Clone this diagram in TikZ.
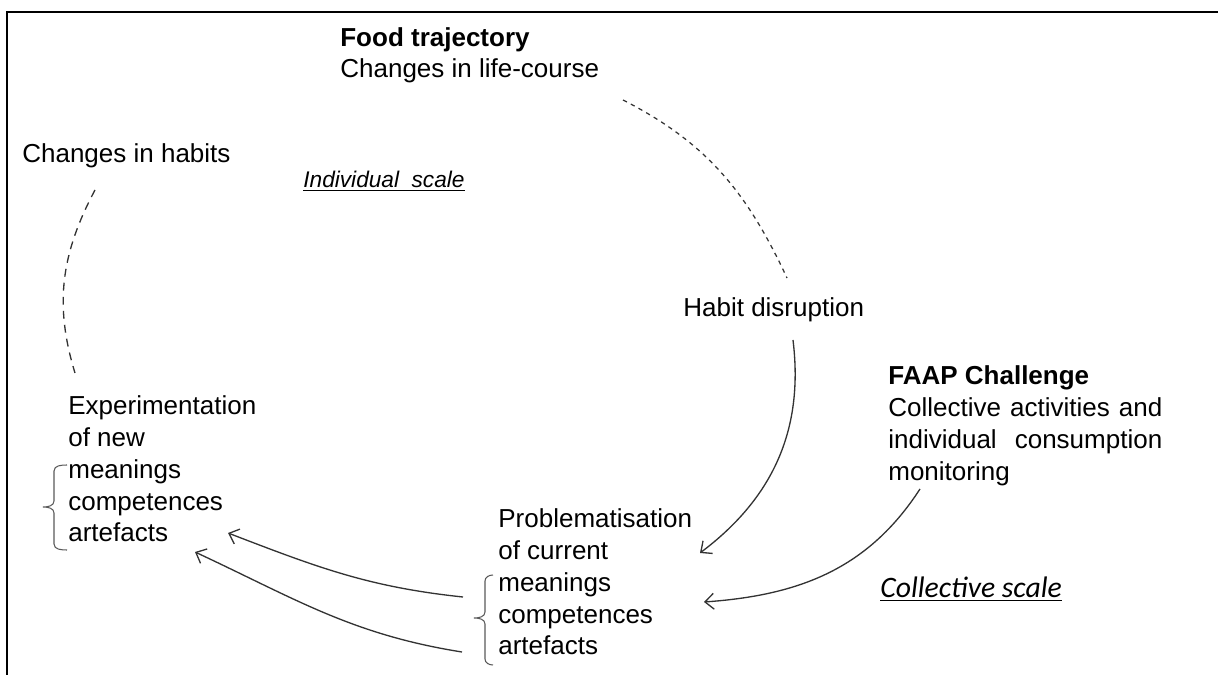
\documentclass[tikz,border=0pt]{standalone}
\usepackage{fontspec}
\setmainfont{Liberation Sans}
\newfontfamily\calibrifont{Carlito}
\usetikzlibrary{arrows.meta}
\tikzset{
  frame/.style={draw=black, line width=1.7pt, line join=miter},
  flow/.style={draw=black!80, line width=0.75pt, -{Straight Barb[length=5pt,width=9pt]}},
  trail/.style={draw=black!80, line width=0.75pt, dash pattern=on 4.5pt off 3.5pt},
  trailfine/.style={draw=black!80, line width=0.7pt, dash pattern=on 2.5pt off 2.5pt},
  brace/.style={draw=black!65, line width=0.6pt},
  label/.style={black, inner sep=0pt, anchor=base west, align=left,
    font=\fontsize{14.8}{18.2}\selectfont},
  scaletag/.style={label, font=\fontsize{12.9}{15}\selectfont\itshape}
}

\begin{document}
\begin{tikzpicture}[x=0.02cm, y=-0.02cm]
  \useasboundingbox (0,0) rectangle (1218,675);
  \draw[frame] (7,675) -- (7,12) -- (1218,12);

  % texts (multi-line ones sit on their last line)
  \node[label] (food) at (340,78) {{\bfseries Food trajectory}\\Changes in life-course};
  \node[label] (habits) at (22,163) {Changes in habits};
  \node[scaletag] (indiv) at (303,188) {\underline{Individual\ \ scale}};
  \node[label] (disrupt) at (683,317) {Habit disruption};
  \node[label, text width=5.48cm, align=justify] (faap) at (888,385)
    {{\bfseries FAAP Challenge}\\Collective activities and individual consumption monitoring};
  \node[label, font=\fontsize{16.9}{19}\selectfont\calibrifont\itshape] (collect) at (880,598)
    {\underline{Collective scale}};
  \node[label] (exper) at (68,542) {Experimentation\\of new\\meanings\\competences\\artefacts};
  \node[label] (probl) at (498,655) {Problematisation\\of current\\meanings\\competences\\artefacts};

  % ends of the connectors
  \coordinate (food-end) at (623,100);
  \coordinate (disrupt-top) at (787,278);
  \coordinate (habits-end) at (95,190);
  \coordinate (exper-top) at (75,373);
  \coordinate (disrupt-end) at (793,340);
  \coordinate (probl-in1) at (700,553);
  \coordinate (faap-end) at (920,489);
  \coordinate (probl-in2) at (704,602);
  \coordinate (probl-out1) at (463,597);
  \coordinate (exper-in1) at (228,533);
  \coordinate (probl-out2) at (462,652);
  \coordinate (exper-in2) at (195,552);

  % connectors
  \draw[trailfine] (food-end) to[out=-27, in=115] (disrupt-top);
  \draw[trail] (habits-end) to[out=-118, in=107] (exper-top);
  \draw[flow] (disrupt-end) to[out=-83, in=37] (probl-in1);
  \draw[flow] (faap-end) to[out=-123, in=4] (probl-in2);
  \draw[flow] (probl-out1) to[out=174, in=-21] (exper-in1);
  \draw[flow] (probl-out2) to[out=171, in=-25] (exper-in2);

  % braces
  \draw[brace] (67,465) to[out=180, in=90] (54,471) -- (54,501)
    to[out=-90, in=0] (43,507) to[out=0, in=90] (54,513) -- (54,544)
    to[out=-90, in=180] (67,550);
  \draw[brace] (493,575) to[out=180, in=90] (485,581) -- (485,612)
    to[out=-90, in=0] (474,618) to[out=0, in=90] (485,624) -- (485,659)
    to[out=-90, in=180] (493,665);
\end{tikzpicture}
\end{document}
